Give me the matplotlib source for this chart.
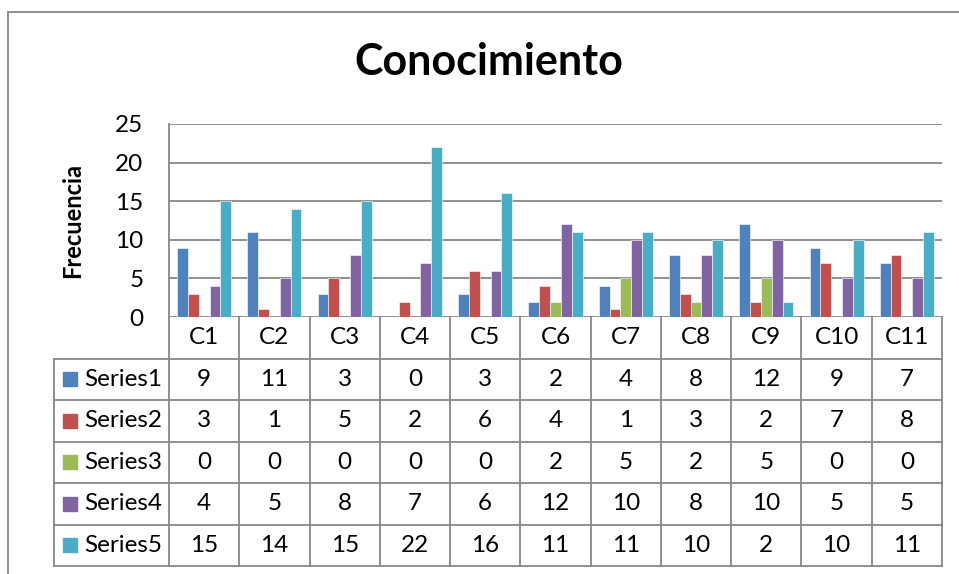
import matplotlib.pyplot as plt
from matplotlib.patches import Rectangle
from matplotlib.lines import Line2D

plt.rcParams['font.family'] = ['Lato', 'DejaVu Sans']

categories = ['C1', 'C2', 'C3', 'C4', 'C5', 'C6', 'C7', 'C8', 'C9', 'C10', 'C11']
series_names = ['Series1', 'Series2', 'Series3', 'Series4', 'Series5']
series1 = [9, 11, 3, 0, 3, 2, 4, 8, 12, 9, 7]
series2 = [3, 1, 5, 2, 6, 4, 1, 3, 2, 7, 8]
series3 = [0, 0, 0, 0, 0, 2, 5, 2, 5, 0, 0]
series4 = [4, 5, 8, 7, 6, 12, 10, 8, 10, 5, 5]
series5 = [15, 14, 15, 22, 16, 11, 11, 10, 2, 10, 11]
yticks = [0, 5, 10, 15, 20, 25]

all_series = [series1, series2, series3, series4, series5]
colors = ['#4F81BD', '#C0504D', '#9BBB59', '#8064A2', '#4BACC6']
grid_c = '#878787'
fs = 17.5

W, H = 959, 574
fig = plt.figure(figsize=(W / 100, H / 100), dpi=100)


def fx(px):
    return px / W


def fy(py):
    return 1 - py / H


# chart area border
fig.add_artist(Rectangle((fx(8), fy(600)), fx(1000) - fx(8), fy(12) - fy(600),
                         transform=fig.transFigure, fill=False,
                         edgecolor=grid_c, lw=1.3))

left, right, top, zero, bottom = 169, 942, 124, 317, 566
ax = fig.add_axes([fx(left), fy(zero), fx(right - left), fy(top) - fy(zero)])

n = len(all_series)
bw = 1 / (n + 1.5)
for i, (vals, c) in enumerate(zip(all_series, colors)):
    xs = [k + (i - (n - 1) / 2) * bw for k in range(len(categories))]
    ax.bar(xs, vals, width=bw, color=c, edgecolor='white', linewidth=0.4, zorder=3)

ax.set_xlim(-0.5, len(categories) - 0.5)
ax.set_ylim(0, 25)
ax.set_yticks(yticks)
ax.set_xticks([])
ax.yaxis.grid(True, color=grid_c, lw=1.3, zorder=0)
ax.tick_params(axis='y', length=0, pad=18.5, labelsize=fs)
for s in ['top', 'right', 'bottom']:
    ax.spines[s].set_visible(False)
ax.spines['left'].set_color(grid_c)
ax.spines['left'].set_linewidth(1.3)
ax.set_ylabel('Frecuencia', fontsize=17, fontweight='bold', labelpad=22)

# data table below the plot, sharing the category scale
tab = fig.add_axes([fx(left), fy(bottom), fx(right - left), fy(zero) - fy(bottom)],
                   sharex=ax)
tab.set_ylim(n + 1, 0)
tab.axis('off')
col_w = (right - left) / len(categories)
x_head = -0.5 - (left - 54) / col_w
lkw = dict(color=grid_c, lw=1.3, clip_on=False)

for r in range(1, n + 2):
    tab.add_line(Line2D([x_head, len(categories) - 0.5], [r, r], **lkw))
for k in range(len(categories) + 1):
    tab.add_line(Line2D([k - 0.5, k - 0.5], [0, n + 1], **lkw))
tab.add_line(Line2D([x_head, x_head], [1, n + 1], **lkw))

for k, cat in enumerate(categories):
    tab.text(k, 0.5, cat, ha='center', va='center', fontsize=fs)

sw = 14 / col_w
for r, (name, vals, c) in enumerate(zip(series_names, all_series, colors), start=1):
    tab.add_patch(Rectangle((x_head + 9 / col_w, r + 0.5 - 0.17), sw, 0.34,
                            color=c, clip_on=False))
    tab.text(x_head + 30 / col_w, r + 0.5, name, ha='left', va='center',
             fontsize=fs, clip_on=False)
    for k, v in enumerate(vals):
        tab.text(k, r + 0.5, str(v), ha='center', va='center', fontsize=fs)

fig.text(fx(489), fy(62), 'Conocimiento', ha='center', va='center',
         fontsize=31, fontweight='bold')

fig.savefig('out.png', dpi=100)
